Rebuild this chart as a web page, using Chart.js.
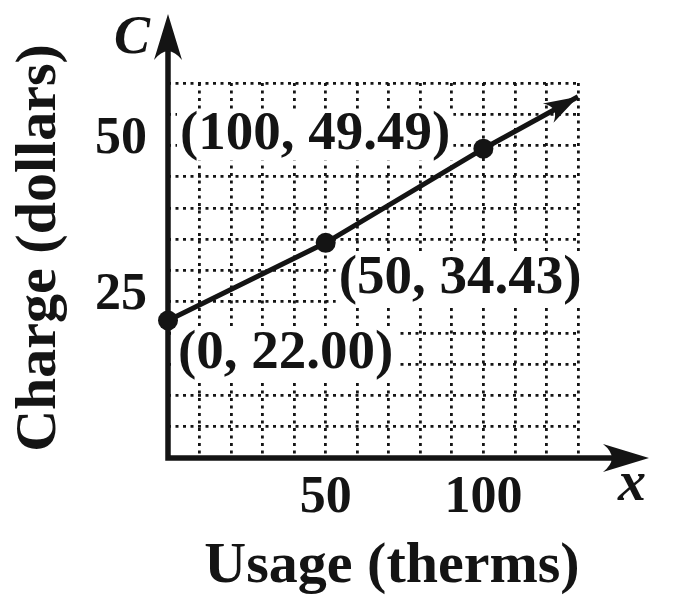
<!DOCTYPE html>
<html>
<head>
<meta charset="utf-8">
<script src="https://cdn.jsdelivr.net/npm/chart.js@4.4.1/dist/chart.umd.min.js"></script>
<style>
  html, body { margin: 0; padding: 0; background: #ffffff; }
  canvas { display: block; }
</style>
</head>
<body>
<canvas id="c" width="682" height="612"></canvas>
<script>
// ---- data ----
const usageTherms   = [0, 50, 100];
const chargeDollars = [22.00, 34.43, 49.49];
const pointLabels   = ['(0, 22.00)', '(50, 34.43)', '(100, 49.49)'];
const extensionUsage  = [100, 130];
const extensionCharge = [49.49, 57.8];
const xTickLabels = [50, 100];
const yTickLabels = [25, 50];
const xTitle = 'Usage (therms)';
const yTitle = 'Charge (dollars)';
const xVarName = 'x';
const yVarName = 'C';

const INK = '#141414';
const SERIF = '"Liberation Serif", "DejaVu Serif", serif';

// label offsets (pixels) relative to each point
const labelOffsets = [
  { dx: 10, dy: 33, align: 'left' },
  { dx: 13, dy: 36, align: 'left' },
  { dx: -33, dy: -14, align: 'right' }
];

function arrowHead(ctx, tipX, tipY, angle, len, half) {
  ctx.save();
  ctx.translate(tipX, tipY);
  ctx.rotate(angle);
  ctx.beginPath();
  ctx.moveTo(0, 0);
  ctx.lineTo(-len, -half);
  ctx.quadraticCurveTo(-len * 0.62, 0, -len, half);
  ctx.closePath();
  ctx.fillStyle = INK;
  ctx.fill();
  ctx.restore();
}

const decorPlugin = {
  id: 'decor',
  beforeDatasetsDraw(chart) {
    const { ctx, scales: { x, y } } = chart;
    // white-backed point labels
    ctx.save();
    ctx.font = 'bold 55px ' + SERIF;
    ctx.textBaseline = 'middle';
    usageTherms.forEach((u, i) => {
      const px = x.getPixelForValue(u) + labelOffsets[i].dx;
      const py = y.getPixelForValue(chargeDollars[i]) + labelOffsets[i].dy;
      const w = ctx.measureText(pointLabels[i]).width;
      const left = labelOffsets[i].align === 'left' ? px : px - w;
      ctx.fillStyle = '#ffffff';
      ctx.fillRect(left - 3, py - 24, w + 6, 50);
      ctx.fillStyle = INK;
      ctx.textAlign = 'left';
      ctx.fillText(pointLabels[i], left, py);
    });
    ctx.restore();
  },
  afterDatasetsDraw(chart) {
    const { ctx, scales: { x, y } } = chart;
    const x0 = x.getPixelForValue(0);
    const y0 = y.getPixelForValue(0);
    ctx.save();
    ctx.strokeStyle = INK;
    ctx.lineWidth = 5.5;
    ctx.lineCap = 'butt';
    // axes
    ctx.beginPath();
    ctx.moveTo(x0, y0 + 2.75);
    ctx.lineTo(x0, 40);
    ctx.moveTo(x0 - 2.75, y0);
    ctx.lineTo(625, y0);
    ctx.stroke();
    arrowHead(ctx, x0, 14, -Math.PI / 2, 46, 14);
    arrowHead(ctx, 649, y0, 0, 46, 14);
    // data line arrow
    const n = extensionUsage.length;
    const ax = x.getPixelForValue(extensionUsage[n - 1]);
    const ay = y.getPixelForValue(extensionCharge[n - 1]);
    const bx = x.getPixelForValue(extensionUsage[n - 2]);
    const by = y.getPixelForValue(extensionCharge[n - 2]);
    arrowHead(ctx, ax, ay, Math.atan2(ay - by, ax - bx), 34, 11);
    // axis titles & variable names
    ctx.fillStyle = INK;
    ctx.font = 'bold 58px ' + SERIF;
    ctx.textAlign = 'center';
    ctx.textBaseline = 'alphabetic';
    ctx.fillText(xTitle, 392, 582);
    ctx.save();
    ctx.translate(55, 248);
    ctx.rotate(-Math.PI / 2);
    ctx.fillText(yTitle, 0, 0);
    ctx.restore();
    ctx.font = 'italic bold 54px ' + SERIF;
    ctx.fillText(yVarName, 132, 53);
    ctx.font = 'italic bold 56px ' + SERIF;
    ctx.fillText(xVarName, 632, 500);
    ctx.restore();
  }
};

new Chart(document.getElementById('c'), {
  type: 'scatter',
  data: {
    datasets: [
      {
        data: usageTherms.map((u, i) => ({ x: u, y: chargeDollars[i] })),
        showLine: true,
        borderColor: INK,
        backgroundColor: INK,
        borderWidth: 5,
        pointRadius: 10,
        pointHoverRadius: 10,
        pointBackgroundColor: INK,
        pointBorderWidth: 0,
        clip: false
      },
      {
        data: extensionUsage.map((u, i) => ({ x: u, y: extensionCharge[i] })),
        showLine: true,
        borderColor: INK,
        borderWidth: 5,
        pointRadius: 0,
        clip: false
      }
    ]
  },
  options: {
    responsive: false,
    animation: false,
    events: [],
    layout: { padding: { top: 83, right: 104, left: 0, bottom: 0 } },
    plugins: { legend: { display: false }, tooltip: { enabled: false } },
    scales: {
      x: {
        type: 'linear',
        min: 0, max: 130,
        afterFit(s) { s.height = 154; },
        grid: { color: INK, lineWidth: 2.8, drawTicks: false },
        border: { display: false, dash: [3, 4.5] },
        ticks: {
          stepSize: 10,
          autoSkip: false,
          maxRotation: 0,
          padding: 9,
          color: INK,
          font: { family: SERIF, size: 52, weight: 'bold' },
          callback: v => xTickLabels.includes(v) ? String(v) : ''
        }
      },
      y: {
        type: 'linear',
        min: 0, max: 60,
        afterFit(s) { s.width = 168; },
        grid: { color: INK, lineWidth: 2.8, drawTicks: false },
        border: { display: false, dash: [3, 4.5] },
        ticks: {
          stepSize: 5,
          autoSkip: false,
          padding: 21,
          labelOffset: -6,
          color: INK,
          font: { family: SERIF, size: 52, weight: 'bold' },
          callback: v => yTickLabels.includes(v) ? String(v) : ''
        }
      }
    }
  },
  plugins: [decorPlugin]
});
</script>
</body>
</html>
